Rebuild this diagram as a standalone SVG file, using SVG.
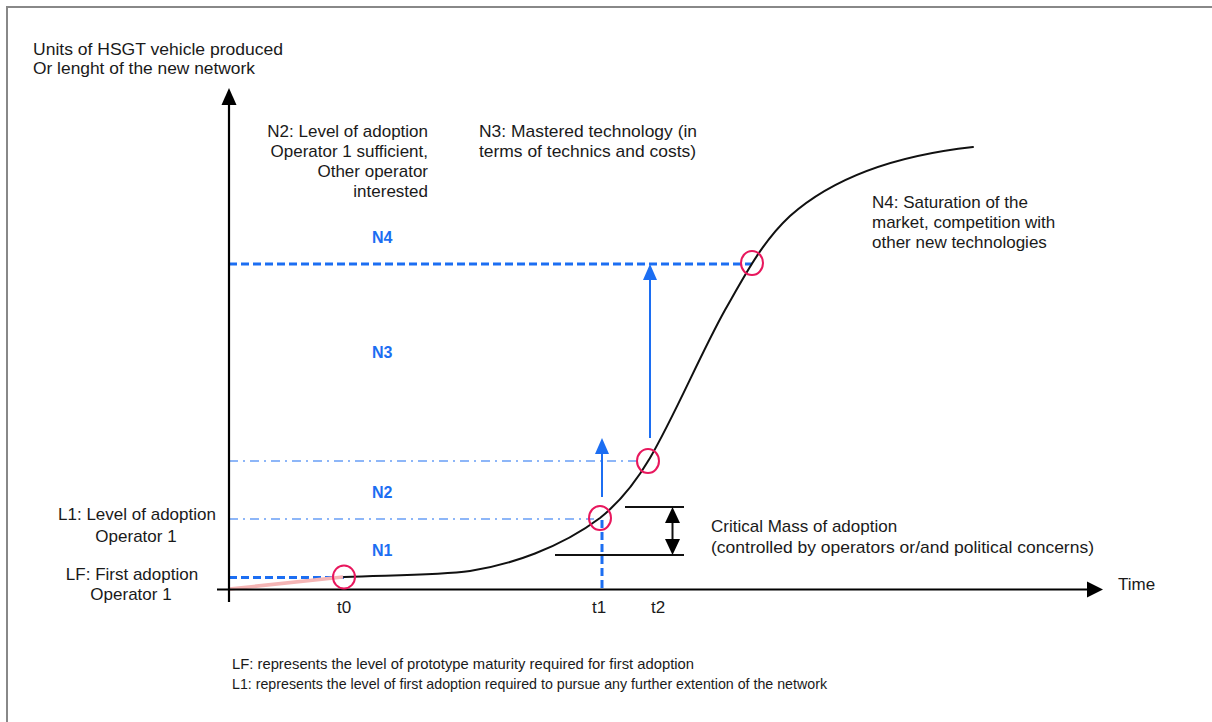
<svg xmlns="http://www.w3.org/2000/svg" width="1212" height="722" viewBox="0 0 1212 722">
<style>
.t{font-family:"Liberation Sans",Arial,Helvetica,sans-serif;font-size:17px;fill:#1a1a1a}
.n{font-family:"Liberation Sans",Arial,Helvetica,sans-serif;font-size:16px;font-weight:bold;fill:#1c6ef2}
.note{font-family:"Liberation Sans",Arial,Helvetica,sans-serif;font-size:14.5px;fill:#1a1a1a}
.ax{stroke:#000;stroke-width:2.2;fill:none}
.blk{stroke:#111;stroke-width:2;fill:none}
.bd{stroke:#1c6ef2;stroke-width:3;fill:none;stroke-dasharray:8 4}
.bdd{stroke:#1c6ef2;stroke-width:1.2;fill:none;stroke-dasharray:9 5 2 5}
.ba{stroke:#1c6ef2;stroke-width:2;fill:none}
.bh{fill:#1c6ef2}
.kh{fill:#000}
.c{stroke:#e8175d;stroke-width:2;fill:none}
</style>
<rect width="1212" height="722" fill="#fff"/>
<path d="M7 722 V7 H1212" stroke="#888" stroke-width="2" fill="none"/>

<g id="connectors">
  <!-- level lines -->
  <line class="bd" x1="229" y1="264" x2="752" y2="264" stroke-width="2.5"/>
  <line class="bdd" x1="229" y1="461" x2="642" y2="461"/>
  <line class="bdd" x1="229" y1="519" x2="594" y2="519"/>
  <line class="bd" x1="229" y1="577.5" x2="344" y2="577.5"/>
  <line class="bd" x1="602" y1="520" x2="602" y2="590" stroke-width="2.5"/>
  <!-- pink start -->
  <line x1="229" y1="589" x2="343" y2="577" stroke="#f5b5b5" stroke-width="3.5"/>
  <!-- curve -->
  <path class="blk" stroke-linecap="round" d="M344,577 C400,575 440,575 470,571 C510,565 560,548 600,518 C625,498 640,475 650,458 C675,415 700,355 725,310 C745,275 762,242 790,216 C835,176 900,155 973,147"/>
  <!-- blue arrows -->
  <line class="ba" x1="602" y1="497" x2="602" y2="452"/>
  <polygon class="bh" points="602,438 595,454 609,454"/>
  <line class="ba" x1="650" y1="438" x2="650" y2="278"/>
  <polygon class="bh" points="650,264 643,280 657,280"/>
  <!-- critical mass -->
  <line class="blk" x1="625" y1="507" x2="684" y2="507"/>
  <line class="blk" x1="555" y1="555" x2="684" y2="555"/>
  <line class="blk" x1="672.5" y1="522" x2="672.5" y2="540"/>
  <polygon class="kh" points="672.5,507 665,523 680,523"/>
  <polygon class="kh" points="672.5,555 665,539 680,539"/>
  <!-- axes -->
  <line class="ax" x1="229" y1="602" x2="229" y2="103"/>
  <polygon class="kh" points="229,88 221.5,105 236.5,105"/>
  <line class="ax" x1="217" y1="589.5" x2="1089" y2="589.5"/>
  <polygon class="kh" points="1103,589.5 1087,581.5 1087,597.5"/>
</g>

<g id="points">
  <ellipse class="c" cx="344" cy="577" rx="11" ry="11.5"/>
  <ellipse class="c" cx="600" cy="518" rx="11" ry="12"/>
  <ellipse class="c" cx="648" cy="461" rx="11" ry="12"/>
  <ellipse class="c" cx="752" cy="263" rx="11" ry="12"/>
</g>

<g id="y-axis-label">
  <text class="t" x="33" y="55" textLength="250" lengthAdjust="spacingAndGlyphs">Units of HSGT vehicle produced</text>
  <text class="t" x="33" y="74" textLength="222" lengthAdjust="spacingAndGlyphs">Or lenght of the new network</text>
</g>
<g id="x-axis-label"><text class="t" x="1118" y="590">Time</text></g>

<g id="n2-note" text-anchor="end">
  <text class="t" x="428" y="137">N2: Level of adoption</text>
  <text class="t" x="428" y="157">Operator 1 sufficient,</text>
  <text class="t" x="428" y="177">Other operator</text>
  <text class="t" x="428" y="197">interested</text>
</g>
<g id="n3-note">
  <text class="t" x="479" y="137" textLength="218" lengthAdjust="spacingAndGlyphs">N3: Mastered technology (in</text>
  <text class="t" x="479" y="157" textLength="217" lengthAdjust="spacingAndGlyphs">terms of technics and costs)</text>
</g>
<g id="n4-note">
  <text class="t" x="872" y="208">N4: Saturation of the</text>
  <text class="t" x="872" y="228">market, competition with</text>
  <text class="t" x="872" y="248">other new technologies</text>
</g>
<g id="l1-label" text-anchor="middle">
  <text class="t" x="137" y="520">L1: Level of adoption</text>
  <text class="t" x="136" y="542">Operator 1</text>
</g>
<g id="lf-label" text-anchor="middle">
  <text class="t" x="132" y="580">LF: First adoption</text>
  <text class="t" x="131" y="600">Operator 1</text>
</g>
<g id="levels">
  <text class="n" x="372" y="243">N4</text>
  <text class="n" x="372" y="358">N3</text>
  <text class="n" x="372" y="498">N2</text>
  <text class="n" x="372" y="556">N1</text>
</g>
<g id="times" text-anchor="middle">
  <text class="t" x="344" y="613">t0</text>
  <text class="t" x="599" y="613">t1</text>
  <text class="t" x="658" y="613">t2</text>
</g>
<g id="critical-mass">
  <text class="t" x="711" y="532">Critical Mass of adoption</text>
  <text class="t" x="711" y="553" textLength="383" lengthAdjust="spacingAndGlyphs">(controlled by operators or/and political concerns)</text>
</g>
<g id="notes">
  <text class="note" x="232" y="669" textLength="462" lengthAdjust="spacingAndGlyphs">LF: represents the level of prototype maturity required for first adoption</text>
  <text class="note" x="232" y="689" textLength="595" lengthAdjust="spacingAndGlyphs">L1: represents the level of first adoption required to pursue any further extention of the network</text>
</g>
</svg>
